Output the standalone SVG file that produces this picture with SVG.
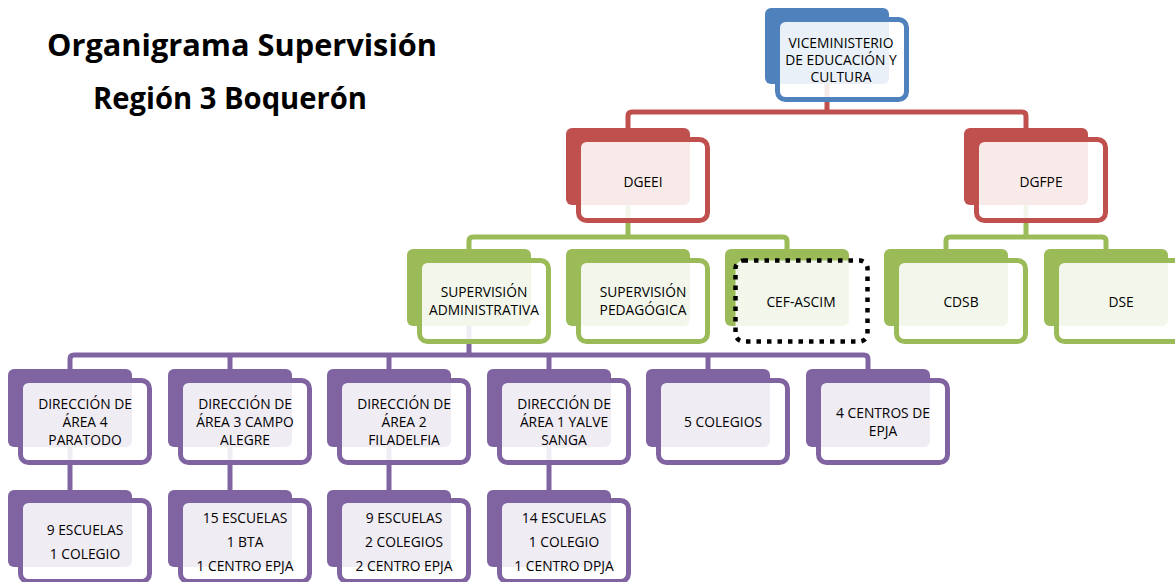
<svg xmlns="http://www.w3.org/2000/svg" width="1175" height="582" viewBox="0 0 1175 582">
<style>
.t{font-family:"Open Sans","Liberation Sans",sans-serif;font-size:13.8px;fill:#000;text-anchor:middle}
.title{font-family:"Open Sans","Liberation Sans",sans-serif;font-size:30px;font-weight:bold;fill:#000}
.c{fill:none;stroke-width:5;stroke-linejoin:round}
.fr{fill:#fff;fill-opacity:0.88;stroke-width:5}
.blue .bk{fill:#4f81bd}.blue .fr{stroke:#4f81bd}
.red .bk{fill:#c0504d}.red .fr{stroke:#c0504d}
.green .bk{fill:#9bbb59}.green .fr{stroke:#9bbb59}
.purple .bk{fill:#8064a2}.purple .fr{stroke:#8064a2}
.dot{fill:#fff;fill-opacity:0.88;stroke:#000;stroke-width:4.5;stroke-dasharray:4.5 6}
</style>
<rect width="1175" height="582" fill="#fff"/>
<text class="title" x="47" y="56" textLength="390" lengthAdjust="spacingAndGlyphs">Organigrama Supervisión</text>
<text class="title" x="93" y="109" textLength="274" lengthAdjust="spacingAndGlyphs">Región 3 Boquerón</text>
<g id="connectors">
<path class="c" stroke="#c0504d" d="M827,83V112M628,128V116Q628,112 632,112H1022Q1026,112 1026,116V128"/>
<path class="c" stroke="#9bbb59" d="M628,205V237M469,249V241Q469,237 473,237H783Q787,237 787,241V249"/>
<path class="c" stroke="#9bbb59" d="M1026,205V237M946,249V241Q946,237 950,237H1102Q1106,237 1106,241V249"/>
<path class="c" stroke="#8064a2" d="M469,325V355M70,369V359Q70,355 74,355H864Q868,355 868,359V369M230,355V369M389,355V369M549,355V369M708,355V369"/>
<path class="c" stroke="#8064a2" d="M70,447V490M230,447V490M389,447V490M549,447V490"/>
</g>
<g id="viceministerio" class="blue">
<rect class="bk" x="765" y="8" width="124" height="76" rx="6"/>
<rect class="fr" x="777.5" y="19.5" width="129" height="80" rx="8"/>
<text class="t" x="841" y="48">VICEMINISTERIO</text>
<text class="t" x="841" y="65">DE EDUCACIÓN Y</text>
<text class="t" x="841" y="82">CULTURA</text>
</g>
<g id="dgeei" class="red">
<rect class="bk" x="566" y="128" width="124" height="77" rx="6"/>
<rect class="fr" x="578.5" y="139.5" width="129" height="81" rx="8"/>
<text class="t" x="643" y="187">DGEEI</text>
</g>
<g id="dgfpe" class="red">
<rect class="bk" x="964" y="128" width="124" height="77" rx="6"/>
<rect class="fr" x="976.5" y="139.5" width="129" height="81" rx="8"/>
<text class="t" x="1041" y="187">DGFPE</text>
</g>
<g id="sup-admin" class="green">
<rect class="bk" x="407" y="249" width="124" height="77" rx="6"/>
<rect class="fr" x="419.5" y="260.5" width="129" height="81" rx="8"/>
<text class="t" x="484" y="297">SUPERVISIÓN</text>
<text class="t" x="484" y="315">ADMINISTRATIVA</text>
</g>
<g id="sup-ped" class="green">
<rect class="bk" x="566" y="249" width="124" height="77" rx="6"/>
<rect class="fr" x="578.5" y="260.5" width="129" height="81" rx="8"/>
<text class="t" x="643" y="297">SUPERVISIÓN</text>
<text class="t" x="643" y="315">PEDAGÓGICA</text>
</g>
<g id="cef-ascim" class="green">
<rect class="bk" x="725" y="249" width="124" height="77" rx="6"/>
<rect class="dot" x="735.5" y="260.5" width="132" height="81" rx="8"/>
<text class="t" x="801" y="307">CEF-ASCIM</text>
</g>
<g id="cdsb" class="green">
<rect class="bk" x="884" y="249" width="124" height="77" rx="6"/>
<rect class="fr" x="896.5" y="260.5" width="129" height="81" rx="8"/>
<text class="t" x="961" y="307">CDSB</text>
</g>
<g id="dse" class="green">
<rect class="bk" x="1044" y="249" width="124" height="77" rx="6"/>
<rect class="fr" x="1056.5" y="260.5" width="129" height="81" rx="8"/>
<text class="t" x="1121" y="307">DSE</text>
</g>
<g id="dir4" class="purple">
<rect class="bk" x="8" y="369" width="124" height="78" rx="6"/>
<rect class="fr" x="20.5" y="380.5" width="129" height="82" rx="8"/>
<text class="t" x="85" y="409">DIRECCIÓN DE</text>
<text class="t" x="85" y="427">ÁREA 4</text>
<text class="t" x="85" y="445">PARATODO</text>
</g>
<g id="dir3" class="purple">
<rect class="bk" x="168" y="369" width="124" height="78" rx="6"/>
<rect class="fr" x="180.5" y="380.5" width="129" height="82" rx="8"/>
<text class="t" x="245" y="409">DIRECCIÓN DE</text>
<text class="t" x="245" y="427">ÁREA 3 CAMPO</text>
<text class="t" x="245" y="445">ALEGRE</text>
</g>
<g id="dir2" class="purple">
<rect class="bk" x="327" y="369" width="124" height="78" rx="6"/>
<rect class="fr" x="339.5" y="380.5" width="129" height="82" rx="8"/>
<text class="t" x="404" y="409">DIRECCIÓN DE</text>
<text class="t" x="404" y="427">ÁREA 2</text>
<text class="t" x="404" y="445">FILADELFIA</text>
</g>
<g id="dir1" class="purple">
<rect class="bk" x="487" y="369" width="124" height="78" rx="6"/>
<rect class="fr" x="499.5" y="380.5" width="129" height="82" rx="8"/>
<text class="t" x="564" y="409">DIRECCIÓN DE</text>
<text class="t" x="564" y="427">ÁREA 1 YALVE</text>
<text class="t" x="564" y="445">SANGA</text>
</g>
<g id="colegios" class="purple">
<rect class="bk" x="646" y="369" width="124" height="78" rx="6"/>
<rect class="fr" x="658.5" y="380.5" width="129" height="82" rx="8"/>
<text class="t" x="723" y="427">5 COLEGIOS</text>
</g>
<g id="centros" class="purple">
<rect class="bk" x="806" y="369" width="124" height="78" rx="6"/>
<rect class="fr" x="818.5" y="380.5" width="129" height="82" rx="8"/>
<text class="t" x="883" y="418">4 CENTROS DE</text>
<text class="t" x="883" y="436">EPJA</text>
</g>
<g id="dir4-det" class="purple">
<rect class="bk" x="8" y="490" width="124" height="77" rx="6"/>
<rect class="fr" x="20.5" y="500.5" width="129" height="81" rx="8"/>
<text class="t" x="85" y="535">9 ESCUELAS</text>
<text class="t" x="85" y="559">1 COLEGIO</text>
</g>
<g id="dir3-det" class="purple">
<rect class="bk" x="168" y="490" width="124" height="77" rx="6"/>
<rect class="fr" x="180.5" y="500.5" width="129" height="81" rx="8"/>
<text class="t" x="245" y="523">15 ESCUELAS</text>
<text class="t" x="245" y="547">1 BTA</text>
<text class="t" x="245" y="571">1 CENTRO EPJA</text>
</g>
<g id="dir2-det" class="purple">
<rect class="bk" x="327" y="490" width="124" height="77" rx="6"/>
<rect class="fr" x="339.5" y="500.5" width="129" height="81" rx="8"/>
<text class="t" x="404" y="523">9 ESCUELAS</text>
<text class="t" x="404" y="547">2 COLEGIOS</text>
<text class="t" x="404" y="571">2 CENTRO EPJA</text>
</g>
<g id="dir1-det" class="purple">
<rect class="bk" x="487" y="490" width="124" height="77" rx="6"/>
<rect class="fr" x="499.5" y="500.5" width="129" height="81" rx="8"/>
<text class="t" x="564" y="523">14 ESCUELAS</text>
<text class="t" x="564" y="547">1 COLEGIO</text>
<text class="t" x="564" y="571">1 CENTRO DPJA</text>
</g>
</svg>
